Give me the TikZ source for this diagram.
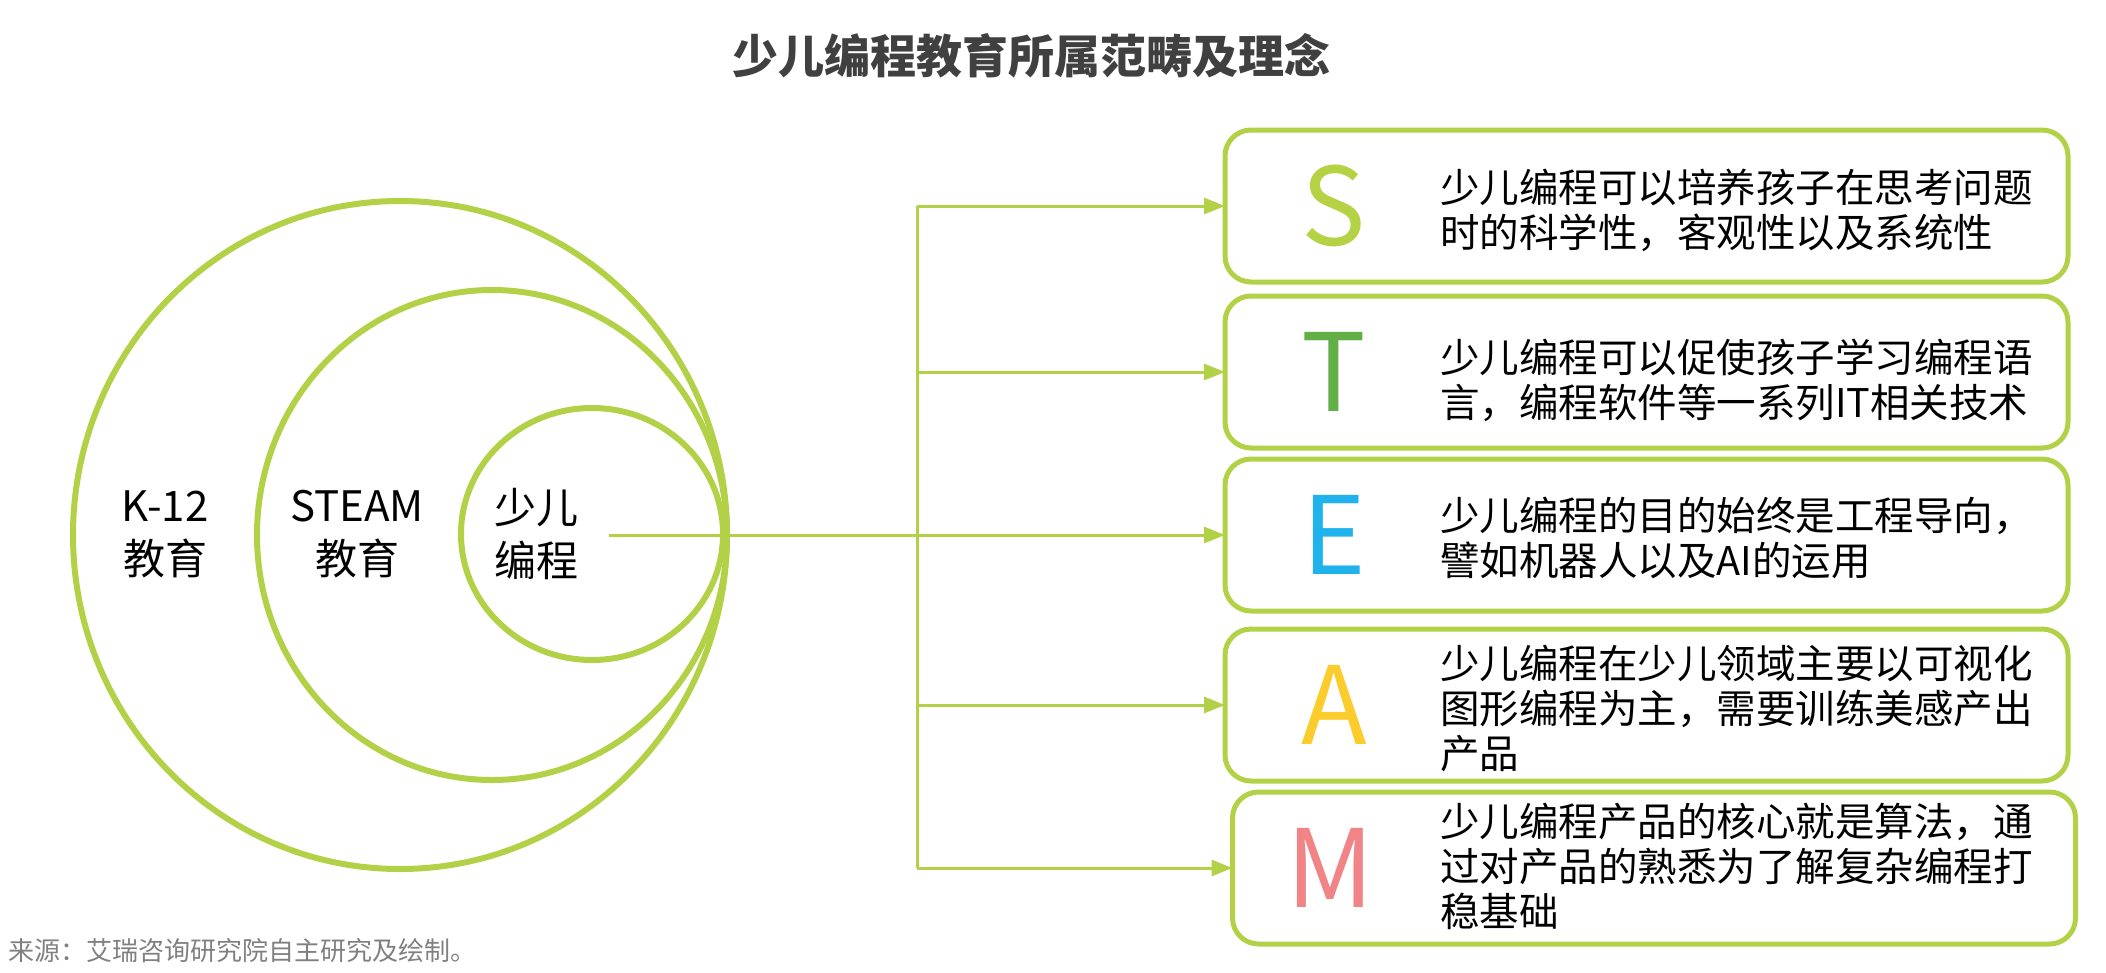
\documentclass[tikz,border=0pt]{standalone}
\usepackage{fontspec}
\setmainfont{Noto Sans CJK SC}
\usetikzlibrary{arrows.meta,shapes.geometric}
\definecolor{lg}{HTML}{B3D147}
\definecolor{cS}{HTML}{B5D144}
\definecolor{cT}{HTML}{62AE47}
\definecolor{cE}{HTML}{1FB2EC}
\definecolor{cA}{HTML}{FCCB2C}
\definecolor{cM}{HTML}{F08486}
\definecolor{titlec}{HTML}{404040}
\definecolor{srcc}{HTML}{808080}
\tikzset{
  ring/.style={ellipse, draw=lg, line width=6pt, inner sep=0pt, outer sep=0pt},
  ringlabel/.style={align=center, font=\fontsize{42}{53}\selectfont, text=black},
  stepbox/.style={draw=lg, line width=5pt, rounded corners=26pt, minimum width=843pt, minimum height=152pt, inner sep=0pt, outer sep=0pt},
  letter/.style={font=\fontsize{108}{108}\selectfont},
  desc/.style={anchor=west, align=left, font=\fontsize{39.5}{45}\selectfont, text=black, inner sep=0pt},
  conn/.style={draw=lg, line width=3pt},
  arr/.style={conn, -{Triangle[length=21pt,width=16pt]}},
}
\begin{document}
\begin{tikzpicture}[x=1pt,y=-1pt]
\useasboundingbox (0,0) rectangle (2106,972);
% title
\node[font=\fontsize{46}{46}\selectfont\bfseries, text=titlec] (title) at (1031,56) {少儿编程教育所属范畴及理念};
% circles
\node[ring, minimum width=654pt, minimum height=668pt] (k12) at (400,535) {};
\node[ring, minimum width=470pt, minimum height=490pt] (steam) at (492,535) {};
\node[ring, minimum width=262pt, minimum height=252pt] (kid) at (592,534) {};
\node[ringlabel] (k12t) at (165,534) {K-12\\教育};
\node[ringlabel] (steamt) at (357,534) {STEAM\\教育};
\node[ringlabel] (kidt) at (536,534) {少儿\\编程};
% boxes
\node[stepbox] (bS) at (1646.5,206) {};
\node[stepbox] (bT) at (1646.5,372) {};
\node[stepbox] (bE) at (1646.5,535) {};
\node[stepbox] (bA) at (1646.5,705) {};
\node[stepbox] (bM) at (1654,868) {};
% letters
\node[letter, text=cS] (lS) at (1334,206) {S};
\node[letter, text=cT] (lT) at (1334,372) {T};
\node[letter, text=cE] (lE) at (1334,535) {E};
\node[letter, text=cA] (lA) at (1334,705) {A};
\node[letter, text=cM] (lM) at (1330,868) {M};
% descriptions
\node[desc] (dS) at (1440,210) {少儿编程可以培养孩子在思考问题\\时的科学性，客观性以及系统性};
\node[desc] (dT) at (1440,380) {少儿编程可以促使孩子学习编程语\\言，编程软件等一系列IT相关技术};
\node[desc] (dE) at (1440,538) {少儿编程的目的始终是工程导向，\\譬如机器人以及AI的运用};
\node[desc] (dA) at (1440,708) {少儿编程在少儿领域主要以可视化\\图形编程为主，需要训练美感产出\\产品};
\node[desc] (dM) at (1440,866) {少儿编程产品的核心就是算法，通\\过对产品的熟悉为了解复杂编程打\\稳基础};
% connectors
\coordinate (start) at (609,535);
\coordinate (spine) at (917,535);
\draw[conn] (spine |- bS.west) -- (spine |- bM.west);
\draw[arr] (start) -- (bE.west);
\draw[arr] (spine |- bS.west) -- (bS.west);
\draw[arr] (spine |- bT.west) -- (bT.west);
\draw[arr] (spine |- bA.west) -- (bA.west);
\draw[arr] (spine |- bM.west) -- (bM.west);
% source
\node[anchor=west, font=\fontsize{26}{26}\selectfont, text=srcc, inner sep=0pt] (src) at (8,951) {来源：艾瑞咨询研究院自主研究及绘制。};
\end{tikzpicture}
\end{document}
